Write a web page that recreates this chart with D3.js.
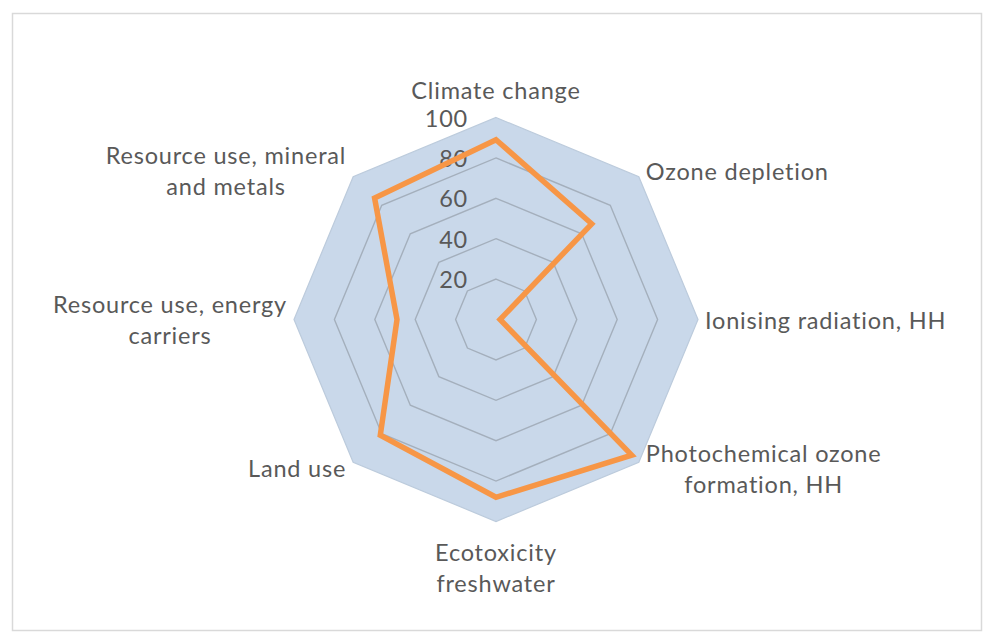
<!DOCTYPE html>
<html>
<head>
<meta charset="utf-8">
<script src="https://cdn.jsdelivr.net/npm/d3@7"></script>
<style>
  html, body { margin: 0; padding: 0; background: #fff; }
  svg text { font-family: Lato, "Open Sans", sans-serif; fill: #595959; letter-spacing: 0.8px; }
</style>
</head>
<body>
<div class="chart"></div>
<script>
// categories, clockwise from the top; "\n" marks where the label wraps
const categories = [
    'Climate change',
    'Ozone depletion',
    'Ionising radiation, HH',
    'Photochemical ozone\nformation, HH',
    'Ecotoxicity\nfreshwater',
    'Land use',
    'Resource use, energy\ncarriers',
    'Resource use, mineral\nand metals'
];
const values = [89, 67, 2, 95, 88, 81, 49, 85];
const ticks = [20, 40, 60, 80, 100];

const width = 992, height = 644;
const cx = 496, cy = 319.5, radius = 202;
const fontSize = 23.5, lineHeight = 31;
const orange = '#f79646', fill = '#c9d8ea', grid = '#a4afbc';

const svg = d3.select('.chart')
    .append('svg')
    .attr('width', width)
    .attr('height', height);

// chart frame
svg.append('rect')
    .attr('x', 12.5).attr('y', 13.5)
    .attr('width', 969).attr('height', 617)
    .attr('fill', '#fff')
    .attr('stroke', '#d9d9d9')
    .attr('stroke-width', 1.5);

const r = d3.scaleLinear().domain([0, 100]).range([0, radius]);
const angle = d3.scaleLinear().domain([0, categories.length]).range([0, 2 * Math.PI]);

const g = svg.append('g').attr('transform', `translate(${cx},${cy})`);

const ringLine = d3.lineRadial()
    .angle((d, i) => angle(i))
    .radius(d => r(d))
    .curve(d3.curveLinearClosed);

// filled outer polygon
g.append('path')
    .attr('d', ringLine(categories.map(() => 100)))
    .attr('fill', fill)
    .attr('stroke', '#bccbdc')
    .attr('stroke-width', 1.2);

// inner rings
g.selectAll('.ring')
    .data(ticks.filter(t => t < 100))
    .join('path')
    .attr('class', 'ring')
    .attr('d', t => ringLine(categories.map(() => t)))
    .attr('fill', 'none')
    .attr('stroke', grid)
    .attr('stroke-width', 1.4);

// tick labels on the vertical axis
g.selectAll('.tick')
    .data(ticks)
    .join('text')
    .attr('class', 'tick')
    .attr('x', -28)
    .attr('y', d => -r(d))
    .attr('text-anchor', 'end')
    .attr('dominant-baseline', 'central')
    .attr('font-size', fontSize)
    .text(d => d);

// data line
g.append('path')
    .attr('d', ringLine(values))
    .attr('fill', 'none')
    .attr('stroke', orange)
    .attr('stroke-width', 5.5)
    .attr('stroke-linejoin', 'miter');

// category labels
categories.forEach((label, i) => {
    const a = angle(i);
    const vx = r(100) * Math.sin(a), vy = -r(100) * Math.cos(a);
    const lines = label.split('\n');
    const n = lines.length;
    const s = Math.sin(a), c = Math.cos(a);

    let mid; // vertical middle of the label block
    if (c > 0.9) mid = vy - 27.5 - (n - 1) * lineHeight / 2;
    else if (c < -0.9) mid = vy + 30 + (n - 1) * lineHeight / 2;
    else if (c > 0.1) mid = vy - 6;
    else if (c < -0.1) mid = vy + 6;
    else mid = vy;

    const t = g.append('text')
        .attr('font-size', fontSize)
        .attr('text-anchor', 'middle')
        .attr('dominant-baseline', 'central');
    lines.forEach((ln, j) => {
        t.append('tspan')
            .attr('x', 0)
            .attr('y', mid + (j - (n - 1) / 2) * lineHeight)
            .text(ln);
    });

    // lines are centred within their block, block aligned to the vertex
    const w = d3.max(t.selectAll('tspan').nodes(), nd => nd.getComputedTextLength());
    let bx;
    if (s > 0.1) bx = vx + 7 + w / 2;
    else if (s < -0.1) bx = vx - 7 - w / 2;
    else bx = vx;
    t.selectAll('tspan').attr('x', bx);
});
</script>
</body>
</html>
